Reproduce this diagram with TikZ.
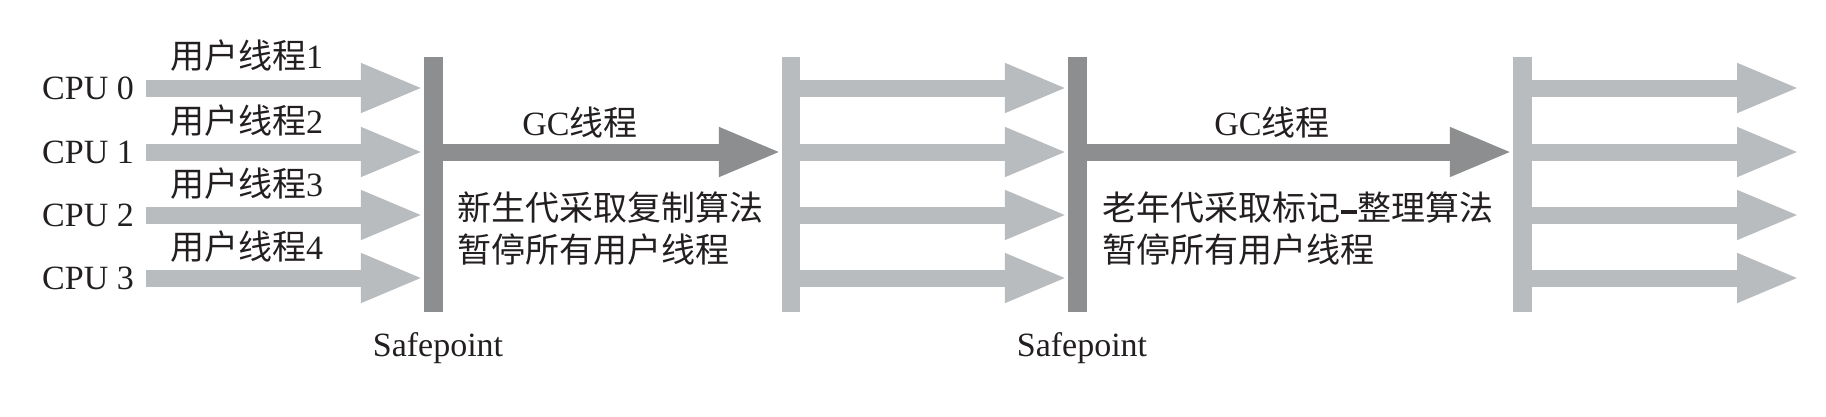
\documentclass[tikz,border=0pt]{standalone}
\usepackage{fontspec}
\setmainfont{Liberation Serif}
\newfontfamily\cjk{Noto Sans CJK SC}
\usetikzlibrary{arrows.meta}
\definecolor{lgray}{RGB}{185,188,190}
\definecolor{dgray}{RGB}{140,142,144}
\definecolor{ink}{RGB}{35,31,32}
\newcommand\mydash{\hspace{0.5pt}\rule[6.5pt]{16pt}{3.5pt}\hspace{0.5pt}}
\begin{document}
\begin{tikzpicture}[x=1pt,y=-1pt,
  bar/.style={draw=none,inner sep=0,minimum width=19pt,minimum height=255pt},
  fat/.style={line width=17pt,-{Triangle[length=63pt,width=45pt]}},
  lbl/.style={inner sep=0,text=ink,font=\fontsize{34}{40}\selectfont},
  cj/.style={inner sep=0,text=ink,font=\cjk\fontsize{34}{40}\selectfont},
]
\useasboundingbox (0,0) rectangle (1826,416);
\fill[white] (0,0) rectangle (1826,416);
% bars (safepoints)
\node[bar,fill=dgray] (bar1) at (433.5,184.5) {};
\node[bar,fill=lgray,minimum width=18pt] (bar2) at (791,184.5) {};
\node[bar,fill=dgray] (bar3) at (1077.5,184.5) {};
\node[bar,fill=lgray] (bar4) at (1522.5,184.5) {};
% CPU labels
\foreach \i/\y in {0/88,1/152,2/215,3/278}{
  \node[lbl,anchor=west] (cpu\i) at (42,\y) {CPU \i};
  \coordinate (end\i) at (1800,\y);
}
% user thread labels
\foreach \i/\y in {1/68,2/133,3/196,4/259}{
  \node[lbl,anchor=base west] (ut\i) at (170,\y) {{\cjk 用户线程}\i};
}
% arrows
\foreach \i in {0,1,2,3}{
  \draw[fat,lgray] ([xshift=12pt]cpu\i.east) -- (bar1.west |- cpu\i.center);
  \draw[fat,lgray] (bar2.east |- cpu\i.center) -- (bar3.west |- cpu\i.center);
  \draw[fat,lgray] (bar4.east |- cpu\i.center) -- (end\i);
}
\draw[fat,dgray] (bar1.east |- cpu1.center) -- (bar2.west |- cpu1.center);
\draw[fat,dgray] (bar3.east |- cpu1.center) -- (bar4.west |- cpu1.center);
% texts
\node[lbl,anchor=base] (gc1) at (580,135) {GC{\cjk 线程}};
\node[cj,anchor=base west] (t1a) at (457,220) {新生代采取复制算法};
\node[cj,anchor=base west] (t1b) at (457,262) {暂停所有用户线程};
\node[lbl,anchor=base] (gc2) at (1272,135) {GC{\cjk 线程}};
\node[cj,anchor=base west] (t2a) at (1102,220) {老年代采取标记\mydash 整理算法};
\node[cj,anchor=base west] (t2b) at (1102,262) {暂停所有用户线程};
\node[lbl,anchor=base] (sp1) at (438,356) {Safepoint};
\node[lbl,anchor=base] (sp2) at (1082,356) {Safepoint};
\end{tikzpicture}
\end{document}
